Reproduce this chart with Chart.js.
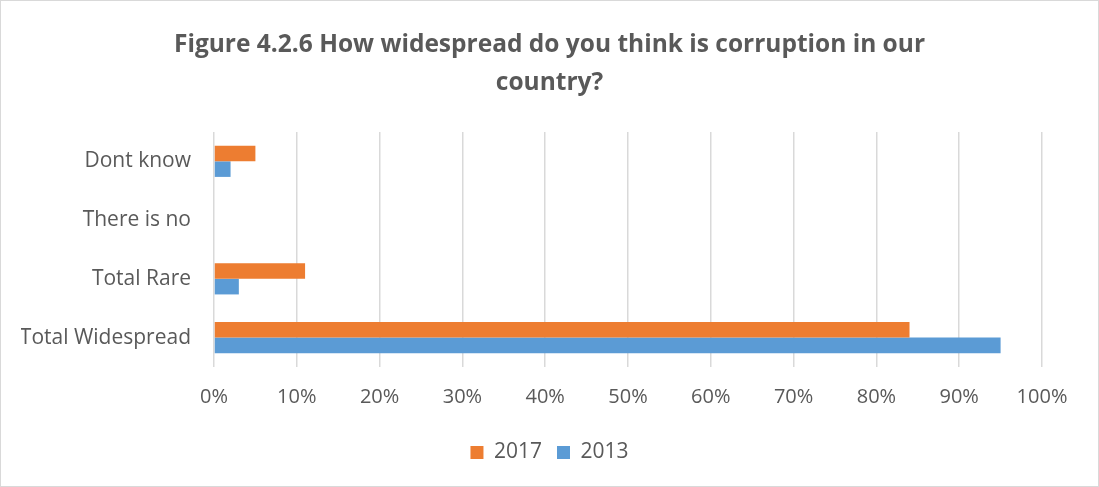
<!DOCTYPE html>
<html>
<head>
<meta charset="utf-8">
<script src="https://cdn.jsdelivr.net/npm/chart.js@4/dist/chart.umd.min.js"></script>
<style>
  html, body { margin: 0; padding: 0; background: #fff; }
  #wrap { width: 1099px; height: 487px; box-sizing: border-box; border: 1px solid #d9d9d9; position: relative; }
</style>
</head>
<body>
<div id="wrap"><canvas id="chart"></canvas></div>
<script>
// Survey answers, top to bottom
const categories = ['Dont know', 'There is no', 'Total Rare', 'Total Widespread'];
const values2017 = [5, 0, 11, 84];
const values2013 = [2, 0, 3, 95];
const tickValues = [0, 10, 20, 30, 40, 50, 60, 70, 80, 90, 100];

const textColor = '#595959';
const fontFamily = '"Open Sans", "Liberation Sans", sans-serif';

function drawChart() {
    const ctx = document.getElementById('chart').getContext('2d');

    new Chart(ctx, {
        type: 'bar',
        data: {
            labels: categories,
            datasets: [
                { label: '2017', data: values2017, backgroundColor: '#ED7D31' },
                { label: '2013', data: values2013, backgroundColor: '#5B9BD5' }
            ]
        },
        options: {
            indexAxis: 'y',
            responsive: true,
            maintainAspectRatio: false,
            animation: false,
            datasets: {
                bar: { categoryPercentage: 0.53, barPercentage: 1.0 }
            },
            // equal side padding keeps the title centred on the canvas
            layout: {
                padding: { left: 20, right: 20, top: 0, bottom: 13 }
            },
            scales: {
                x: {
                    min: 0,
                    max: 100,
                    afterBuildTicks: axis => {
                        axis.ticks = tickValues.map(v => ({ value: v }));
                    },
                    // room on the right for the "100%" label (measured from the canvas edge)
                    afterFit: axis => {
                        axis.paddingRight = 56;
                    },
                    ticks: {
                        color: textColor,
                        font: { family: fontFamily, size: 20 },
                        padding: 18,
                        callback: v => v + '%'
                    },
                    grid: { color: '#d9d9d9', lineWidth: 1.5, drawTicks: false },
                    border: { display: false }
                },
                y: {
                    // fixed width: longest label plus the gap to the plot
                    afterFit: axis => {
                        axis.width = 193;
                    },
                    ticks: {
                        color: textColor,
                        font: { family: fontFamily, size: 21 },
                        padding: 23
                    },
                    grid: { display: false, drawTicks: false },
                    border: { display: false }
                }
            },
            plugins: {
                title: {
                    display: true,
                    text: ['Figure 4.2.6 How widespread do you think is corruption in our', 'country?'],
                    color: textColor,
                    font: { family: fontFamily, size: 24.5, weight: 'bold', lineHeight: 1.55 },
                    padding: { top: 25, bottom: 30 }
                },
                legend: {
                    position: 'bottom',
                    labels: {
                        color: textColor,
                        font: { family: fontFamily, size: 21 },
                        boxWidth: 13,
                        boxHeight: 13,
                        padding: 15
                    }
                },
                tooltip: { enabled: false }
            }
        }
    });
}

// make sure text is measured with the real font, not a fallback
document.addEventListener('DOMContentLoaded', function() {
    Promise.all([
        document.fonts.load('21px "Open Sans"'),
        document.fonts.load('bold 24px "Open Sans"')
    ]).then(drawChart, drawChart);
});
</script>
</body>
</html>
